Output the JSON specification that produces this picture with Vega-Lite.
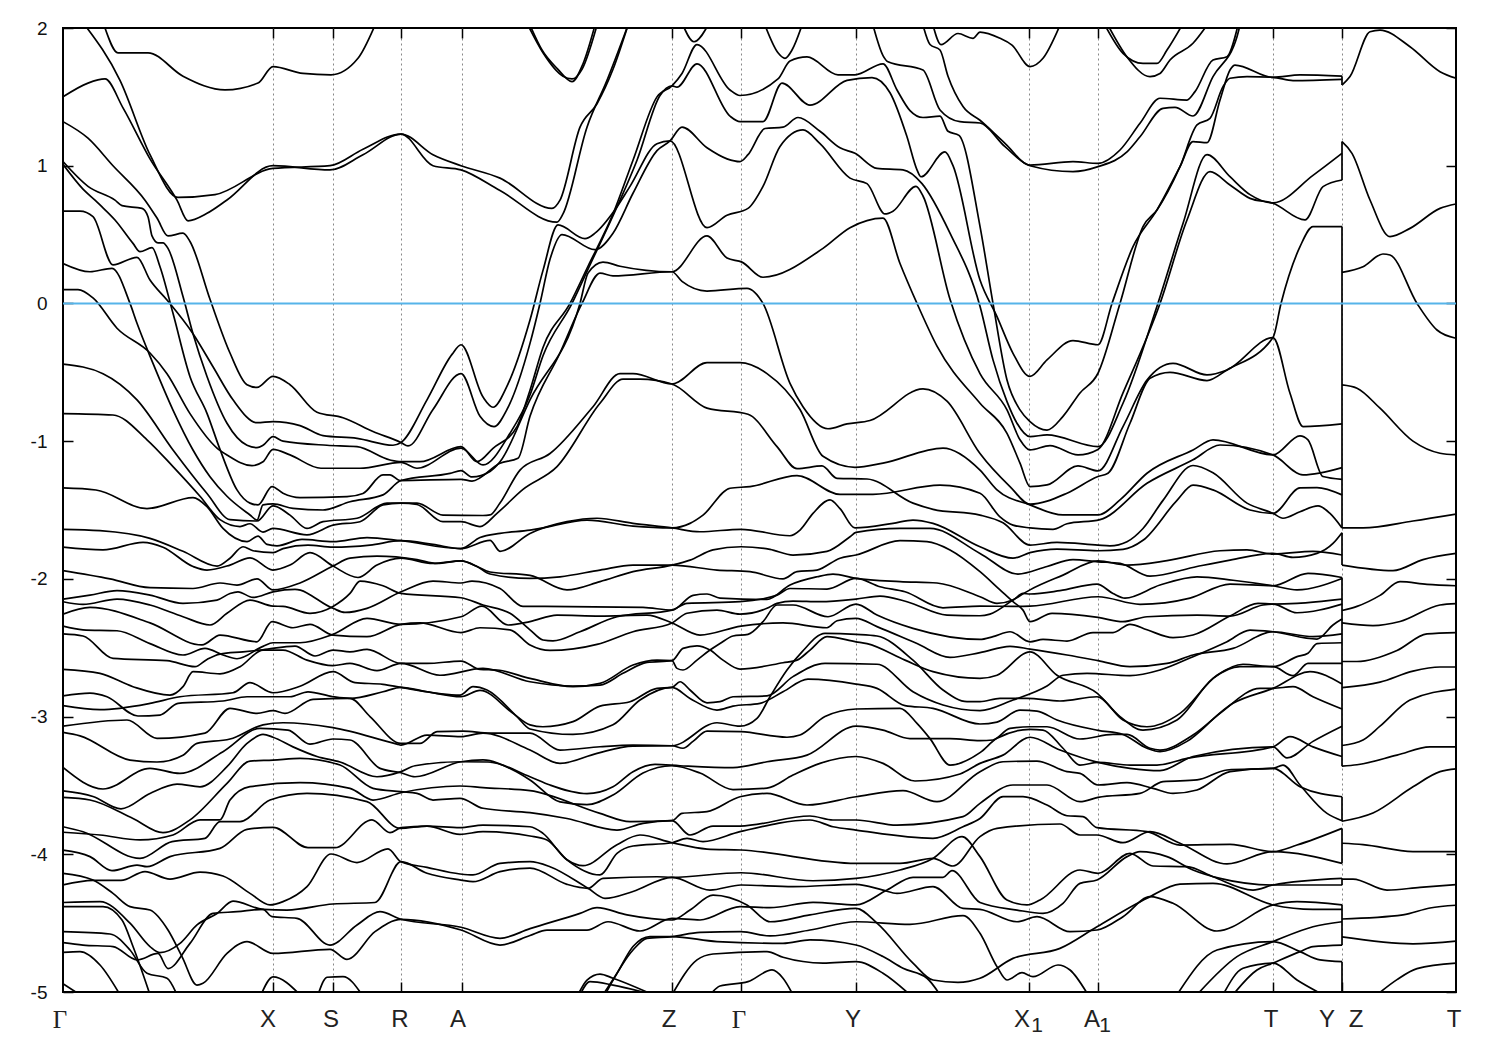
{"$schema":"https://vega.github.io/schema/vega-lite/v6.json","width":1393,"height":964,"autosize":"none","padding":{"left":63,"top":28,"right":44,"bottom":58},"background":"white","config":{"view":{"stroke":"black","strokeWidth":2},"axis":{"domain":false,"tickColor":"black","tickWidth":1.5,"labelColor":"#111","labelFont":"Liberation Sans"}},"resolve":{"axis":{"x":"independent","y":"independent"}},
"datasets":{"bands":[
{"b":1,"k":42,"e":2},{"b":1,"k":55,"e":1.82},{"b":1,"k":85,"e":1.82},{"b":1,"k":120,"e":1.65},{"b":1,"k":162,"e":1.55},{"b":1,"k":195,"e":1.6},{"b":1,"k":210,"e":1.72},{"b":1,"k":240,"e":1.67},{"b":1,"k":268,"e":1.66},{"b":1,"k":295,"e":1.78},{"b":1,"k":312,"e":2.02},
{"b":2,"k":465,"e":2.02},{"b":2,"k":480,"e":1.82},{"b":2,"k":500,"e":1.65},{"b":2,"k":509,"e":1.63},{"b":2,"k":519,"e":1.7},{"b":2,"k":534,"e":2.02},
{"b":3,"k":467,"e":2.02},{"b":3,"k":479,"e":1.84},{"b":3,"k":495,"e":1.7},{"b":3,"k":509,"e":1.61},{"b":3,"k":520,"e":1.74},{"b":3,"k":532,"e":2.02},
{"b":4,"k":0,"e":1.5},{"b":4,"k":25,"e":1.6},{"b":4,"k":42,"e":1.63},{"b":4,"k":60,"e":1.42},{"b":4,"k":87,"e":1.05},{"b":4,"k":114,"e":0.75},{"b":4,"k":125,"e":0.6},{"b":4,"k":144,"e":0.654},{"b":4,"k":164,"e":0.751},{"b":4,"k":210,"e":1},{"b":4,"k":267,"e":0.97},{"b":4,"k":300,"e":1.08},{"b":4,"k":338,"e":1.23},{"b":4,"k":370,"e":1.08},{"b":4,"k":398,"e":1},{"b":4,"k":437,"e":0.91},{"b":4,"k":489,"e":0.69},{"b":4,"k":497,"e":0.75},{"b":4,"k":517,"e":1.28},{"b":4,"k":534,"e":1.45},{"b":4,"k":550,"e":1.7},{"b":4,"k":565,"e":2.02},
{"b":5,"k":22,"e":2.02},{"b":5,"k":57,"e":1.62},{"b":5,"k":87,"e":1.08},{"b":5,"k":115,"e":0.77},{"b":5,"k":152,"e":0.79},{"b":5,"k":210,"e":0.98},{"b":5,"k":267,"e":1},{"b":5,"k":300,"e":1.12},{"b":5,"k":338,"e":1.23},{"b":5,"k":370,"e":1},{"b":5,"k":398,"e":0.97},{"b":5,"k":437,"e":0.82},{"b":5,"k":494,"e":0.59},{"b":5,"k":500,"e":0.65},{"b":5,"k":524,"e":1.28},{"b":5,"k":544,"e":1.62},{"b":5,"k":565,"e":2.02},
{"b":6,"k":0,"e":1.32},{"b":6,"k":25,"e":1.2},{"b":6,"k":50,"e":1},{"b":6,"k":82,"e":0.75},{"b":6,"k":94,"e":0.62},{"b":6,"k":105,"e":0.49},{"b":6,"k":120,"e":0.51},{"b":6,"k":127,"e":0.45},{"b":6,"k":147,"e":0.03},{"b":6,"k":167,"e":-0.36},{"b":6,"k":184,"e":-0.59},{"b":6,"k":194,"e":-0.61},{"b":6,"k":210,"e":-0.53},{"b":6,"k":227,"e":-0.59},{"b":6,"k":254,"e":-0.79},{"b":6,"k":280,"e":-0.83},{"b":6,"k":310,"e":-0.93},{"b":6,"k":338,"e":-1.01},{"b":6,"k":345,"e":-1.035},{"b":6,"k":370,"e":-0.77},{"b":6,"k":398,"e":-0.51},{"b":6,"k":417,"e":-0.82},{"b":6,"k":431,"e":-0.895},{"b":6,"k":444,"e":-0.77},{"b":6,"k":467,"e":-0.29},{"b":6,"k":477,"e":0},{"b":6,"k":487,"e":0.32},{"b":6,"k":499,"e":0.5},{"b":6,"k":532,"e":0.39},{"b":6,"k":550,"e":0.51},{"b":6,"k":570,"e":0.8},{"b":6,"k":594,"e":1.11},{"b":6,"k":607,"e":1.18},{"b":6,"k":619,"e":1.28},{"b":6,"k":644,"e":1.13},{"b":6,"k":664,"e":1.05},{"b":6,"k":677,"e":1.03},{"b":6,"k":685,"e":1.08},{"b":6,"k":702,"e":1.27},{"b":6,"k":720,"e":1.28},{"b":6,"k":735,"e":1.35},{"b":6,"k":757,"e":1.25},{"b":6,"k":777,"e":1.13},{"b":6,"k":792,"e":1.09},{"b":6,"k":814,"e":0.98},{"b":6,"k":840,"e":0.97},{"b":6,"k":859,"e":0.87},{"b":6,"k":887,"e":0.51},{"b":6,"k":917,"e":-0.02},{"b":6,"k":930,"e":-0.41},{"b":6,"k":944,"e":-0.713},{"b":6,"k":954,"e":-0.87},{"b":6,"k":967,"e":-0.967},{"b":6,"k":984,"e":-0.955},{"b":6,"k":1035,"e":-1.04},{"b":6,"k":1060,"e":-0.725},{"b":6,"k":1094,"e":-0.02},{"b":6,"k":1120,"e":0.58},{"b":6,"k":1144,"e":1.08},{"b":6,"k":1167,"e":0.92},{"b":6,"k":1187,"e":0.79},{"b":6,"k":1210,"e":0.73},{"b":6,"k":1250,"e":0.93},{"b":6,"k":1279,"e":1.09},
{"b":7,"k":0,"e":0.67},{"b":7,"k":17,"e":0.67},{"b":7,"k":30,"e":0.63},{"b":7,"k":50,"e":0.28},{"b":7,"k":74,"e":0.335},{"b":7,"k":87,"e":0.17},{"b":7,"k":104,"e":0.025},{"b":7,"k":130,"e":-0.22},{"b":7,"k":150,"e":-0.46},{"b":7,"k":170,"e":-0.7},{"b":7,"k":194,"e":-0.866},{"b":7,"k":210,"e":-0.858},{"b":7,"k":237,"e":-0.887},{"b":7,"k":260,"e":-0.96},{"b":7,"k":294,"e":-0.98},{"b":7,"k":330,"e":-1.03},{"b":7,"k":338,"e":-1.01},{"b":7,"k":364,"e":-0.7},{"b":7,"k":389,"e":-0.37},{"b":7,"k":398,"e":-0.3},{"b":7,"k":420,"e":-0.68},{"b":7,"k":430,"e":-0.754},{"b":7,"k":444,"e":-0.6},{"b":7,"k":467,"e":-0.12},{"b":7,"k":480,"e":0.24},{"b":7,"k":495,"e":0.57},{"b":7,"k":522,"e":0.47},{"b":7,"k":532,"e":0.51},{"b":7,"k":552,"e":0.68},{"b":7,"k":567,"e":0.85},{"b":7,"k":594,"e":1.16},{"b":7,"k":607,"e":1.18},{"b":7,"k":644,"e":0.55},{"b":7,"k":664,"e":0.64},{"b":7,"k":685,"e":0.69},{"b":7,"k":700,"e":0.85},{"b":7,"k":717,"e":1.14},{"b":7,"k":740,"e":1.26},{"b":7,"k":757,"e":1.16},{"b":7,"k":787,"e":0.91},{"b":7,"k":804,"e":0.87},{"b":7,"k":822,"e":0.65},{"b":7,"k":830,"e":0.67},{"b":7,"k":853,"e":0.85},{"b":7,"k":860,"e":0.78},{"b":7,"k":887,"e":0.03},{"b":7,"k":917,"e":-0.51},{"b":7,"k":944,"e":-0.773},{"b":7,"k":957,"e":-0.99},{"b":7,"k":967,"e":-1.064},{"b":7,"k":987,"e":-1.032},{"b":7,"k":1015,"e":-1.1},{"b":7,"k":1035,"e":-1.06},{"b":7,"k":1060,"e":-0.65},{"b":7,"k":1097,"e":0},{"b":7,"k":1124,"e":0.606},{"b":7,"k":1147,"e":0.957},{"b":7,"k":1167,"e":0.86},{"b":7,"k":1187,"e":0.763},{"b":7,"k":1210,"e":0.727},{"b":7,"k":1242,"e":0.606},{"b":7,"k":1260,"e":0.848},{"b":7,"k":1279,"e":0.896},
{"b":8,"k":0,"e":0.29},{"b":8,"k":27,"e":0.23},{"b":8,"k":49,"e":0.255},{"b":8,"k":67,"e":0},{"b":8,"k":74,"e":-0.144},{"b":8,"k":90,"e":-0.435},{"b":8,"k":110,"e":-0.774},{"b":8,"k":130,"e":-1.064},{"b":8,"k":147,"e":-1.258},{"b":8,"k":164,"e":-1.4},{"b":8,"k":187,"e":-1.536},{"b":8,"k":194,"e":-1.573},{"b":8,"k":200,"e":-1.463},{"b":8,"k":210,"e":-1.456},{"b":8,"k":230,"e":-1.488},{"b":8,"k":260,"e":-1.5},{"b":8,"k":287,"e":-1.44},{"b":8,"k":320,"e":-1.39},{"b":8,"k":338,"e":-1.286},{"b":8,"k":387,"e":-1.234},{"b":8,"k":398,"e":-1.214},{"b":8,"k":409,"e":-1.26},{"b":8,"k":427,"e":-1.22},{"b":8,"k":437,"e":-1.15},{"b":8,"k":467,"e":-0.7},{"b":8,"k":517,"e":0},{"b":8,"k":525,"e":0.22},{"b":8,"k":540,"e":0.3},{"b":8,"k":557,"e":0.27},{"b":8,"k":609,"e":0.23},{"b":8,"k":644,"e":0.49},{"b":8,"k":664,"e":0.33},{"b":8,"k":679,"e":0.3},{"b":8,"k":700,"e":0.19},{"b":8,"k":760,"e":0.4},{"b":8,"k":787,"e":0.55},{"b":8,"k":820,"e":0.62},{"b":8,"k":837,"e":0.29},{"b":8,"k":854,"e":0},{"b":8,"k":874,"e":-0.31},{"b":8,"k":917,"e":-0.725},{"b":8,"k":944,"e":-0.943},{"b":8,"k":957,"e":-1.16},{"b":8,"k":967,"e":-1.33},{"b":8,"k":984,"e":-1.318},{"b":8,"k":1015,"e":-1.18},{"b":8,"k":1035,"e":-1.216},{"b":8,"k":1060,"e":-0.894},{"b":8,"k":1084,"e":-0.556},{"b":8,"k":1110,"e":-0.435},{"b":8,"k":1144,"e":-0.519},{"b":8,"k":1164,"e":-0.483},{"b":8,"k":1210,"e":-0.248},{"b":8,"k":1227,"e":-0.652},{"b":8,"k":1240,"e":-0.894},{"b":8,"k":1279,"e":-0.875},
{"b":9,"k":0,"e":0.1},{"b":9,"k":15,"e":0.1},{"b":9,"k":30,"e":0.04},{"b":9,"k":54,"e":-0.18},{"b":9,"k":87,"e":-0.36},{"b":9,"k":104,"e":-0.51},{"b":9,"k":127,"e":-0.8},{"b":9,"k":154,"e":-1.05},{"b":9,"k":164,"e":-1.1},{"b":9,"k":189,"e":-1.178},{"b":9,"k":200,"e":-1.15},{"b":9,"k":210,"e":-1.06},{"b":9,"k":227,"e":-1.1},{"b":9,"k":258,"e":-1.197},{"b":9,"k":297,"e":-1.197},{"b":9,"k":338,"e":-1.154},{"b":9,"k":354,"e":-1.197},{"b":9,"k":398,"e":-1.05},{"b":9,"k":420,"e":-1.173},{"b":9,"k":447,"e":-0.943},{"b":9,"k":467,"e":-0.665},{"b":9,"k":480,"e":-0.38},{"b":9,"k":509,"e":0},{"b":9,"k":527,"e":0.28},{"b":9,"k":554,"e":0.7},{"b":9,"k":574,"e":1.04},{"b":9,"k":597,"e":1.51},{"b":9,"k":609,"e":1.58},{"b":9,"k":614,"e":1.57},{"b":9,"k":634,"e":1.74},{"b":9,"k":667,"e":1.36},{"b":9,"k":677,"e":1.32},{"b":9,"k":700,"e":1.32},{"b":9,"k":719,"e":1.6},{"b":9,"k":747,"e":1.44},{"b":9,"k":784,"e":1.62},{"b":9,"k":809,"e":1.64},{"b":9,"k":827,"e":1.53},{"b":9,"k":844,"e":1.21},{"b":9,"k":854,"e":0.97},{"b":9,"k":858,"e":0.92},{"b":9,"k":882,"e":1.1},{"b":9,"k":890,"e":1},{"b":9,"k":917,"e":0.17},{"b":9,"k":934,"e":-0.096},{"b":9,"k":950,"e":-0.362},{"b":9,"k":967,"e":-0.53},{"b":9,"k":984,"e":-0.41},{"b":9,"k":1010,"e":-0.27},{"b":9,"k":1035,"e":-0.3},{"b":9,"k":1049,"e":0},{"b":9,"k":1070,"e":0.412},{"b":9,"k":1094,"e":0.679},{"b":9,"k":1117,"e":0.993},{"b":9,"k":1130,"e":1.175},{"b":9,"k":1144,"e":1.167},{"b":9,"k":1157,"e":1.477},{"b":9,"k":1167,"e":1.695},{"b":9,"k":1172,"e":1.731},{"b":9,"k":1210,"e":1.642},{"b":9,"k":1237,"e":1.659},{"b":9,"k":1279,"e":1.65},
{"b":10,"k":0,"e":1.03},{"b":10,"k":25,"e":0.85},{"b":10,"k":52,"e":0.75},{"b":10,"k":59,"e":0.71},{"b":10,"k":79,"e":0.69},{"b":10,"k":85,"e":0.63},{"b":10,"k":89,"e":0.49},{"b":10,"k":95,"e":0.44},{"b":10,"k":100,"e":0.44},{"b":10,"k":105,"e":0.4},{"b":10,"k":120,"e":0.05},{"b":10,"k":130,"e":-0.22},{"b":10,"k":144,"e":-0.53},{"b":10,"k":164,"e":-0.87},{"b":10,"k":184,"e":-1.03},{"b":10,"k":194,"e":-1.047},{"b":10,"k":200,"e":-1.03},{"b":10,"k":210,"e":-0.967},{"b":10,"k":220,"e":-1},{"b":10,"k":264,"e":-1.03},{"b":10,"k":294,"e":-1.04},{"b":10,"k":327,"e":-1.137},{"b":10,"k":338,"e":-1.149},{"b":10,"k":357,"e":-1.149},{"b":10,"k":398,"e":-1.04},{"b":10,"k":414,"e":-1.149},{"b":10,"k":430,"e":-1.052},{"b":10,"k":454,"e":-0.895},{"b":10,"k":467,"e":-0.63},{"b":10,"k":480,"e":-0.32},{"b":10,"k":507,"e":0},{"b":10,"k":525,"e":0.27},{"b":10,"k":550,"e":0.65},{"b":10,"k":570,"e":1.04},{"b":10,"k":594,"e":1.5},{"b":10,"k":609,"e":1.58},{"b":10,"k":619,"e":1.67},{"b":10,"k":634,"e":1.88},{"b":10,"k":667,"e":1.55},{"b":10,"k":677,"e":1.51},{"b":10,"k":715,"e":1.63},{"b":10,"k":727,"e":1.76},{"b":10,"k":744,"e":1.79},{"b":10,"k":775,"e":1.66},{"b":10,"k":792,"e":1.66},{"b":10,"k":820,"e":1.74},{"b":10,"k":834,"e":1.55},{"b":10,"k":847,"e":1.4},{"b":10,"k":860,"e":1.35},{"b":10,"k":877,"e":1.36},{"b":10,"k":885,"e":1.25},{"b":10,"k":896,"e":1.22},{"b":10,"k":917,"e":0.56},{"b":10,"k":930,"e":0},{"b":10,"k":944,"e":-0.556},{"b":10,"k":957,"e":-0.773},{"b":10,"k":967,"e":-0.858},{"b":10,"k":984,"e":-0.92},{"b":10,"k":1000,"e":-0.82},{"b":10,"k":1017,"e":-0.65},{"b":10,"k":1035,"e":-0.507},{"b":10,"k":1057,"e":0},{"b":10,"k":1080,"e":0.558},{"b":10,"k":1094,"e":0.679},{"b":10,"k":1117,"e":0.993},{"b":10,"k":1134,"e":1.296},{"b":10,"k":1147,"e":1.344},{"b":10,"k":1160,"e":1.574},{"b":10,"k":1167,"e":1.635},{"b":10,"k":1184,"e":1.647},{"b":10,"k":1210,"e":1.642},{"b":10,"k":1230,"e":1.618},{"b":10,"k":1279,"e":1.627},
{"b":11,"k":0,"e":1.01},{"b":11,"k":20,"e":0.83},{"b":11,"k":32,"e":0.75},{"b":11,"k":37,"e":0.715},{"b":11,"k":52,"e":0.606},{"b":11,"k":70,"e":0.436},{"b":11,"k":77,"e":0.376},{"b":11,"k":89,"e":0.405},{"b":11,"k":97,"e":0.267},{"b":11,"k":110,"e":-0.072},{"b":11,"k":127,"e":-0.532},{"b":11,"k":144,"e":-0.798},{"b":11,"k":157,"e":-1.06},{"b":11,"k":174,"e":-1.354},{"b":11,"k":187,"e":-1.45},{"b":11,"k":195,"e":-1.463},{"b":11,"k":209,"e":-1.33},{"b":11,"k":220,"e":-1.378},{"b":11,"k":237,"e":-1.41},{"b":11,"k":284,"e":-1.403},{"b":11,"k":300,"e":-1.38},{"b":11,"k":320,"e":-1.245},{"b":11,"k":327,"e":-1.245},{"b":11,"k":337,"e":-1.286},{"b":11,"k":398,"e":-1.277},{"b":11,"k":409,"e":-1.29},{"b":11,"k":437,"e":-1.16},{"b":11,"k":455,"e":-1.125},{"b":11,"k":467,"e":-0.82},{"b":11,"k":497,"e":-0.36},{"b":11,"k":519,"e":0},{"b":11,"k":537,"e":0.22},{"b":11,"k":550,"e":0.2},{"b":11,"k":609,"e":0.23},{"b":11,"k":619,"e":0.16},{"b":11,"k":644,"e":0.09},{"b":11,"k":684,"e":0.11},{"b":11,"k":700,"e":0},{"b":11,"k":727,"e":-0.58},{"b":11,"k":740,"e":-0.75},{"b":11,"k":765,"e":-0.91},{"b":11,"k":784,"e":-0.875},{"b":11,"k":807,"e":-0.85},{"b":11,"k":860,"e":-0.62},{"b":11,"k":884,"e":-0.71},{"b":11,"k":917,"e":-1.09},{"b":11,"k":947,"e":-1.33},{"b":11,"k":967,"e":-1.458},{"b":11,"k":1004,"e":-1.378},{"b":11,"k":1035,"e":-1.257},{"b":11,"k":1045,"e":-1.233},{"b":11,"k":1067,"e":-0.87},{"b":11,"k":1087,"e":-0.543},{"b":11,"k":1107,"e":-0.5},{"b":11,"k":1144,"e":-0.56},{"b":11,"k":1164,"e":-0.483},{"b":11,"k":1210,"e":-0.248},{"b":11,"k":1218,"e":0},{"b":11,"k":1237,"e":0.412},{"b":11,"k":1250,"e":0.558},{"b":11,"k":1279,"e":0.558},
{"b":12,"k":810,"e":2.02},{"b":12,"k":820,"e":1.8},{"b":12,"k":825,"e":1.755},{"b":12,"k":860,"e":1.695},{"b":12,"k":877,"e":1.405},{"b":12,"k":897,"e":1.32},{"b":12,"k":917,"e":1.31},{"b":12,"k":942,"e":1.138},{"b":12,"k":967,"e":1},{"b":12,"k":1010,"e":0.957},{"b":12,"k":1035,"e":0.993},{"b":12,"k":1064,"e":1.1},{"b":12,"k":1077,"e":1.21},{"b":12,"k":1100,"e":1.417},{"b":12,"k":1112,"e":1.424},{"b":12,"k":1130,"e":1.361},{"b":12,"k":1150,"e":1.647},{"b":12,"k":1174,"e":1.937},{"b":12,"k":1177,"e":2.02},
{"b":13,"k":860,"e":2.02},{"b":13,"k":867,"e":1.88},{"b":13,"k":877,"e":1.84},{"b":13,"k":885,"e":1.65},{"b":13,"k":900,"e":1.43},{"b":13,"k":917,"e":1.33},{"b":13,"k":942,"e":1.163},{"b":13,"k":967,"e":1.005},{"b":13,"k":1010,"e":1.03},{"b":13,"k":1035,"e":1.017},{"b":13,"k":1057,"e":1.114},{"b":13,"k":1077,"e":1.308},{"b":13,"k":1097,"e":1.49},{"b":13,"k":1124,"e":1.477},{"b":13,"k":1132,"e":1.538},{"b":13,"k":1150,"e":1.768},{"b":13,"k":1164,"e":1.792},{"b":13,"k":1175,"e":2.02},
{"b":14,"k":870,"e":2.02},{"b":14,"k":878,"e":1.88},{"b":14,"k":895,"e":1.96},{"b":14,"k":910,"e":1.925},{"b":14,"k":917,"e":1.97},{"b":14,"k":937,"e":1.925},{"b":14,"k":949,"e":1.876},{"b":14,"k":967,"e":1.72},{"b":14,"k":980,"e":1.78},{"b":14,"k":997,"e":2.02},
{"b":15,"k":1042,"e":2.02},{"b":15,"k":1060,"e":1.816},{"b":15,"k":1080,"e":1.743},{"b":15,"k":1094,"e":1.743},{"b":15,"k":1104,"e":1.84},{"b":15,"k":1119,"e":2.02},
{"b":16,"k":1045,"e":2.02},{"b":16,"k":1064,"e":1.79},{"b":16,"k":1087,"e":1.647},{"b":16,"k":1097,"e":1.67},{"b":16,"k":1107,"e":1.768},{"b":16,"k":1130,"e":1.889},{"b":16,"k":1144,"e":2.02},
{"b":17,"k":620,"e":2.02},{"b":17,"k":631,"e":1.9},{"b":17,"k":645,"e":2.02},
{"b":18,"k":702,"e":2.02},{"b":18,"k":715,"e":1.82},{"b":18,"k":722,"e":1.78},{"b":18,"k":729,"e":1.84},{"b":18,"k":739,"e":2.02},
{"b":19,"k":0,"e":-1.34},{"b":19,"k":33,"e":-1.355},{"b":19,"k":84,"e":-1.49},{"b":19,"k":130,"e":-1.41},{"b":19,"k":144,"e":-1.476},{"b":19,"k":160,"e":-1.634},{"b":19,"k":184,"e":-1.73},{"b":19,"k":195,"e":-1.69},{"b":19,"k":204,"e":-1.75},{"b":19,"k":214,"e":-1.76},{"b":19,"k":239,"e":-1.714},{"b":19,"k":270,"e":-1.73},{"b":19,"k":304,"e":-1.7},{"b":19,"k":338,"e":-1.723},{"b":19,"k":398,"e":-1.78},{"b":19,"k":417,"e":-1.7},{"b":19,"k":437,"e":-1.67},{"b":19,"k":467,"e":-1.646},{"b":19,"k":477,"e":-1.634},{"b":19,"k":524,"e":-1.573},{"b":19,"k":570,"e":-1.617},{"b":19,"k":609,"e":-1.63},{"b":19,"k":627,"e":-1.597},{"b":19,"k":640,"e":-1.537},{"b":19,"k":667,"e":-1.342},{"b":19,"k":687,"e":-1.33},{"b":19,"k":734,"e":-1.25},{"b":19,"k":777,"e":-1.386},{"b":19,"k":810,"e":-1.386},{"b":19,"k":877,"e":-1.32},{"b":19,"k":917,"e":-1.378},{"b":19,"k":937,"e":-1.55},{"b":19,"k":950,"e":-1.61},{"b":19,"k":967,"e":-1.63},{"b":19,"k":990,"e":-1.64},{"b":19,"k":1004,"e":-1.6},{"b":19,"k":1037,"e":-1.57},{"b":19,"k":1084,"e":-1.306},{"b":19,"k":1130,"e":-1.136},{"b":19,"k":1157,"e":-1.028},{"b":19,"k":1210,"e":-1.1},{"b":19,"k":1240,"e":-1.245},{"b":19,"k":1279,"e":-1.192},
{"b":20,"k":0,"e":-0.44},{"b":20,"k":40,"e":-0.51},{"b":20,"k":74,"e":-0.7},{"b":20,"k":110,"e":-1.064},{"b":20,"k":144,"e":-1.38},{"b":20,"k":167,"e":-1.57},{"b":20,"k":194,"e":-1.58},{"b":20,"k":210,"e":-1.47},{"b":20,"k":227,"e":-1.537},{"b":20,"k":244,"e":-1.634},{"b":20,"k":260,"e":-1.585},{"b":20,"k":294,"e":-1.56},{"b":20,"k":324,"e":-1.45},{"b":20,"k":354,"e":-1.45},{"b":20,"k":380,"e":-1.537},{"b":20,"k":420,"e":-1.54},{"b":20,"k":427,"e":-1.536},{"b":20,"k":437,"e":-1.45},{"b":20,"k":457,"e":-1.21},{"b":20,"k":487,"e":-1.09},{"b":20,"k":530,"e":-0.75},{"b":20,"k":557,"e":-0.51},{"b":20,"k":570,"e":-0.51},{"b":20,"k":609,"e":-0.585},{"b":20,"k":644,"e":-0.43},{"b":20,"k":677,"e":-0.43},{"b":20,"k":704,"e":-0.51},{"b":20,"k":737,"e":-0.77},{"b":20,"k":760,"e":-1.11},{"b":20,"k":792,"e":-1.19},{"b":20,"k":820,"e":-1.16},{"b":20,"k":880,"e":-1.05},{"b":20,"k":917,"e":-1.21},{"b":20,"k":934,"e":-1.354},{"b":20,"k":967,"e":-1.463},{"b":20,"k":1000,"e":-1.536},{"b":20,"k":1035,"e":-1.536},{"b":20,"k":1057,"e":-1.427},{"b":20,"k":1084,"e":-1.233},{"b":20,"k":1130,"e":-1.064},{"b":20,"k":1150,"e":-0.991},{"b":20,"k":1210,"e":-1.1},{"b":20,"k":1237,"e":-0.962},{"b":20,"k":1245,"e":-0.991},{"b":20,"k":1260,"e":-1.257},{"b":20,"k":1279,"e":-1.277},
{"b":21,"k":0,"e":-0.8},{"b":21,"k":50,"e":-0.81},{"b":21,"k":84,"e":-0.99},{"b":21,"k":110,"e":-1.185},{"b":21,"k":137,"e":-1.4},{"b":21,"k":157,"e":-1.57},{"b":21,"k":177,"e":-1.62},{"b":21,"k":187,"e":-1.6},{"b":21,"k":200,"e":-1.66},{"b":21,"k":210,"e":-1.634},{"b":21,"k":244,"e":-1.68},{"b":21,"k":270,"e":-1.61},{"b":21,"k":297,"e":-1.585},{"b":21,"k":320,"e":-1.464},{"b":21,"k":338,"e":-1.45},{"b":21,"k":354,"e":-1.46},{"b":21,"k":380,"e":-1.585},{"b":21,"k":398,"e":-1.585},{"b":21,"k":417,"e":-1.62},{"b":21,"k":434,"e":-1.524},{"b":21,"k":460,"e":-1.35},{"b":21,"k":494,"e":-1.185},{"b":21,"k":537,"e":-0.725},{"b":21,"k":560,"e":-0.55},{"b":21,"k":577,"e":-0.55},{"b":21,"k":609,"e":-0.585},{"b":21,"k":644,"e":-0.76},{"b":21,"k":685,"e":-0.805},{"b":21,"k":714,"e":-1.04},{"b":21,"k":734,"e":-1.2},{"b":21,"k":759,"e":-1.18},{"b":21,"k":774,"e":-1.27},{"b":21,"k":804,"e":-1.275},{"b":21,"k":850,"e":-1.45},{"b":21,"k":870,"e":-1.495},{"b":21,"k":917,"e":-1.537},{"b":21,"k":940,"e":-1.593},{"b":21,"k":967,"e":-1.755},{"b":21,"k":994,"e":-1.735},{"b":21,"k":1035,"e":-1.755},{"b":21,"k":1047,"e":-1.76},{"b":21,"k":1064,"e":-1.73},{"b":21,"k":1080,"e":-1.634},{"b":21,"k":1100,"e":-1.43},{"b":21,"k":1130,"e":-1.177},{"b":21,"k":1150,"e":-1.23},{"b":21,"k":1184,"e":-1.45},{"b":21,"k":1210,"e":-1.524},{"b":21,"k":1220,"e":-1.56},{"b":21,"k":1237,"e":-1.513},{"b":21,"k":1255,"e":-1.47},{"b":21,"k":1267,"e":-1.525},{"b":21,"k":1279,"e":-1.63},
{"b":22,"k":0,"e":-1.64},{"b":22,"k":37,"e":-1.65},{"b":22,"k":87,"e":-1.706},{"b":22,"k":120,"e":-1.8},{"b":22,"k":154,"e":-1.907},{"b":22,"k":167,"e":-1.85},{"b":22,"k":180,"e":-1.767},{"b":22,"k":190,"e":-1.796},{"b":22,"k":210,"e":-1.81},{"b":22,"k":220,"e":-1.78},{"b":22,"k":245,"e":-1.755},{"b":22,"k":270,"e":-1.77},{"b":22,"k":307,"e":-1.755},{"b":22,"k":338,"e":-1.723},{"b":22,"k":370,"e":-1.75},{"b":22,"k":398,"e":-1.78},{"b":22,"k":427,"e":-1.72},{"b":22,"k":437,"e":-1.8},{"b":22,"k":467,"e":-1.67},{"b":22,"k":504,"e":-1.585},{"b":22,"k":534,"e":-1.56},{"b":22,"k":570,"e":-1.597},{"b":22,"k":609,"e":-1.63},{"b":22,"k":637,"e":-1.658},{"b":22,"k":678,"e":-1.64},{"b":22,"k":727,"e":-1.687},{"b":22,"k":737,"e":-1.646},{"b":22,"k":750,"e":-1.525},{"b":22,"k":767,"e":-1.427},{"b":22,"k":777,"e":-1.49},{"b":22,"k":792,"e":-1.63},{"b":22,"k":830,"e":-1.597},{"b":22,"k":850,"e":-1.573},{"b":22,"k":870,"e":-1.597},{"b":22,"k":917,"e":-1.767},{"b":22,"k":950,"e":-1.85},{"b":22,"k":967,"e":-1.81},{"b":22,"k":994,"e":-1.784},{"b":22,"k":1035,"e":-1.796},{"b":22,"k":1060,"e":-1.786},{"b":22,"k":1080,"e":-1.72},{"b":22,"k":1114,"e":-1.43},{"b":22,"k":1130,"e":-1.32},{"b":22,"k":1150,"e":-1.354},{"b":22,"k":1187,"e":-1.5},{"b":22,"k":1210,"e":-1.524},{"b":22,"k":1237,"e":-1.34},{"b":22,"k":1254,"e":-1.337},{"b":22,"k":1279,"e":-1.39},
{"b":23,"k":0,"e":-1.77},{"b":23,"k":40,"e":-1.79},{"b":23,"k":80,"e":-1.735},{"b":23,"k":100,"e":-1.77},{"b":23,"k":130,"e":-1.91},{"b":23,"k":144,"e":-1.936},{"b":23,"k":167,"e":-1.9},{"b":23,"k":187,"e":-1.847},{"b":23,"k":210,"e":-1.936},{"b":23,"k":227,"e":-1.9},{"b":23,"k":247,"e":-1.81},{"b":23,"k":270,"e":-1.907},{"b":23,"k":295,"e":-1.99},{"b":23,"k":314,"e":-1.9},{"b":23,"k":338,"e":-1.85},{"b":23,"k":370,"e":-1.888},{"b":23,"k":398,"e":-1.87},{"b":23,"k":414,"e":-1.91},{"b":23,"k":427,"e":-1.965},{"b":23,"k":467,"e":-1.997},{"b":23,"k":497,"e":-1.985},{"b":23,"k":537,"e":-1.936},{"b":23,"k":570,"e":-1.9},{"b":23,"k":609,"e":-1.9},{"b":23,"k":654,"e":-1.936},{"b":23,"k":687,"e":-1.948},{"b":23,"k":720,"e":-2},{"b":23,"k":734,"e":-1.948},{"b":23,"k":754,"e":-1.936},{"b":23,"k":777,"e":-1.85},{"b":23,"k":793,"e":-1.827},{"b":23,"k":837,"e":-1.723},{"b":23,"k":864,"e":-1.73},{"b":23,"k":887,"e":-1.79},{"b":23,"k":917,"e":-1.948},{"b":23,"k":937,"e":-2.08},{"b":23,"k":950,"e":-2.166},{"b":23,"k":960,"e":-2.227},{"b":23,"k":967,"e":-2.311},{"b":23,"k":989,"e":-2.25},{"b":23,"k":1035,"e":-2.28},{"b":23,"k":1060,"e":-2.311},{"b":23,"k":1084,"e":-2.275},{"b":23,"k":1134,"e":-2.263},{"b":23,"k":1167,"e":-2.27},{"b":23,"k":1200,"e":-2.19},{"b":23,"k":1210,"e":-2.183},{"b":23,"k":1234,"e":-2.246},{"b":23,"k":1279,"e":-2.183},
{"b":24,"k":0,"e":-1.94},{"b":24,"k":47,"e":-2},{"b":24,"k":87,"e":-2.064},{"b":24,"k":130,"e":-2.07},{"b":24,"k":157,"e":-2.03},{"b":24,"k":174,"e":-2.045},{"b":24,"k":194,"e":-2},{"b":24,"k":210,"e":-2.08},{"b":24,"k":237,"e":-2.03},{"b":24,"k":270,"e":-1.907},{"b":24,"k":287,"e":-1.85},{"b":24,"k":314,"e":-1.835},{"b":24,"k":354,"e":-1.86},{"b":24,"k":374,"e":-1.888},{"b":24,"k":398,"e":-1.87},{"b":24,"k":414,"e":-1.91},{"b":24,"k":427,"e":-1.95},{"b":24,"k":467,"e":-1.975},{"b":24,"k":504,"e":-2.08},{"b":24,"k":537,"e":-2.02},{"b":24,"k":570,"e":-1.948},{"b":24,"k":609,"e":-1.9},{"b":24,"k":627,"e":-1.864},{"b":24,"k":650,"e":-1.79},{"b":24,"k":678,"e":-1.767},{"b":24,"k":707,"e":-1.786},{"b":24,"k":730,"e":-1.827},{"b":24,"k":764,"e":-1.8},{"b":24,"k":787,"e":-1.694},{"b":24,"k":793,"e":-1.663},{"b":24,"k":837,"e":-1.634},{"b":24,"k":867,"e":-1.634},{"b":24,"k":917,"e":-1.815},{"b":24,"k":955,"e":-1.965},{"b":24,"k":984,"e":-1.91},{"b":24,"k":1010,"e":-1.86},{"b":24,"k":1035,"e":-1.876},{"b":24,"k":1057,"e":-1.888},{"b":24,"k":1087,"e":-1.98},{"b":24,"k":1134,"e":-1.91},{"b":24,"k":1167,"e":-1.864},{"b":24,"k":1210,"e":-1.815},{"b":24,"k":1230,"e":-1.844},{"b":24,"k":1254,"e":-1.815},{"b":24,"k":1270,"e":-1.743},{"b":24,"k":1279,"e":-1.665},
{"b":25,"k":0,"e":-2.147},{"b":25,"k":27,"e":-2.118},{"b":25,"k":54,"e":-2.086},{"b":25,"k":87,"e":-2.118},{"b":25,"k":120,"e":-2.178},{"b":25,"k":154,"e":-2.154},{"b":25,"k":167,"e":-2.106},{"b":25,"k":175,"e":-2.094},{"b":25,"k":190,"e":-2.135},{"b":25,"k":210,"e":-2.094},{"b":25,"k":232,"e":-2.077},{"b":25,"k":270,"e":-2.214},{"b":25,"k":282,"e":-2.244},{"b":25,"k":304,"e":-2.214},{"b":25,"k":338,"e":-2.094},{"b":25,"k":370,"e":-2.016},{"b":25,"k":398,"e":-2.03},{"b":25,"k":409,"e":-2.016},{"b":25,"k":437,"e":-2.07},{"b":25,"k":460,"e":-2.2},{"b":25,"k":467,"e":-2.2},{"b":25,"k":580,"e":-2.207},{"b":25,"k":609,"e":-2.227},{"b":25,"k":630,"e":-2.12},{"b":25,"k":644,"e":-2.11},{"b":25,"k":657,"e":-2.14},{"b":25,"k":704,"e":-2.15},{"b":25,"k":727,"e":-2.045},{"b":25,"k":754,"e":-1.985},{"b":25,"k":770,"e":-1.965},{"b":25,"k":793,"e":-1.997},{"b":25,"k":837,"e":-2.02},{"b":25,"k":874,"e":-2.03},{"b":25,"k":917,"e":-2.13},{"b":25,"k":934,"e":-2.178},{"b":25,"k":950,"e":-2.154},{"b":25,"k":960,"e":-2.106},{"b":25,"k":967,"e":-2.11},{"b":25,"k":997,"e":-2.086},{"b":25,"k":1034,"e":-2.038},{"b":25,"k":1050,"e":-2.106},{"b":25,"k":1062,"e":-2.14},{"b":25,"k":1097,"e":-2.045},{"b":25,"k":1134,"e":-1.985},{"b":25,"k":1170,"e":-2.01},{"b":25,"k":1210,"e":-2.05},{"b":25,"k":1234,"e":-2.08},{"b":25,"k":1279,"e":-1.997},
{"b":26,"k":0,"e":-2.166},{"b":26,"k":20,"e":-2.185},{"b":26,"k":54,"e":-2.147},{"b":26,"k":87,"e":-2.19},{"b":26,"k":120,"e":-2.275},{"b":26,"k":147,"e":-2.335},{"b":26,"k":164,"e":-2.25},{"b":26,"k":187,"e":-2.154},{"b":26,"k":210,"e":-2.198},{"b":26,"k":220,"e":-2.2},{"b":26,"k":247,"e":-2.25},{"b":26,"k":270,"e":-2.2},{"b":26,"k":287,"e":-2.106},{"b":26,"k":297,"e":-2.016},{"b":26,"k":320,"e":-2.05},{"b":26,"k":338,"e":-2.106},{"b":26,"k":398,"e":-2.137},{"b":26,"k":420,"e":-2.19},{"b":26,"k":447,"e":-2.25},{"b":26,"k":467,"e":-2.37},{"b":26,"k":480,"e":-2.444},{"b":26,"k":490,"e":-2.45},{"b":26,"k":517,"e":-2.384},{"b":26,"k":554,"e":-2.275},{"b":26,"k":609,"e":-2.227},{"b":26,"k":624,"e":-2.178},{"b":26,"k":677,"e":-2.166},{"b":26,"k":714,"e":-2.118},{"b":26,"k":727,"e":-2.07},{"b":26,"k":764,"e":-2.074},{"b":26,"k":793,"e":-1.997},{"b":26,"k":817,"e":-2.057},{"b":26,"k":842,"e":-2.094},{"b":26,"k":880,"e":-2.21},{"b":26,"k":917,"e":-2.198},{"b":26,"k":950,"e":-2.2},{"b":26,"k":967,"e":-2.198},{"b":26,"k":1035,"e":-2.13},{"b":26,"k":1077,"e":-2.185},{"b":26,"k":1127,"e":-2.14},{"b":26,"k":1167,"e":-2.038},{"b":26,"k":1210,"e":-2.05},{"b":26,"k":1245,"e":-1.96},{"b":26,"k":1279,"e":-1.99},
{"b":27,"k":0,"e":-2.256},{"b":27,"k":27,"e":-2.207},{"b":27,"k":87,"e":-2.32},{"b":27,"k":139,"e":-2.48},{"b":27,"k":157,"e":-2.408},{"b":27,"k":194,"e":-2.457},{"b":27,"k":209,"e":-2.311},{"b":27,"k":230,"e":-2.355},{"b":27,"k":247,"e":-2.33},{"b":27,"k":270,"e":-2.408},{"b":27,"k":304,"e":-2.42},{"b":27,"k":338,"e":-2.33},{"b":27,"k":357,"e":-2.32},{"b":27,"k":398,"e":-2.39},{"b":27,"k":417,"e":-2.355},{"b":27,"k":447,"e":-2.37},{"b":27,"k":467,"e":-2.48},{"b":27,"k":487,"e":-2.52},{"b":27,"k":534,"e":-2.476},{"b":27,"k":570,"e":-2.384},{"b":27,"k":609,"e":-2.32},{"b":27,"k":624,"e":-2.25},{"b":27,"k":654,"e":-2.227},{"b":27,"k":677,"e":-2.256},{"b":27,"k":704,"e":-2.214},{"b":27,"k":714,"e":-2.178},{"b":27,"k":730,"e":-2.161},{"b":27,"k":757,"e":-2.166},{"b":27,"k":793,"e":-2.147},{"b":27,"k":817,"e":-2.125},{"b":27,"k":844,"e":-2.166},{"b":27,"k":884,"e":-2.263},{"b":27,"k":917,"e":-2.268},{"b":27,"k":927,"e":-2.256},{"b":27,"k":950,"e":-2.154},{"b":27,"k":967,"e":-2.08},{"b":27,"k":1000,"e":-1.973},{"b":27,"k":1035,"e":-1.87},{"b":27,"k":1064,"e":-1.9},{"b":27,"k":1104,"e":-1.868},{"b":27,"k":1157,"e":-1.796},{"b":27,"k":1184,"e":-1.79},{"b":27,"k":1210,"e":-1.82},{"b":27,"k":1250,"e":-1.8},{"b":27,"k":1279,"e":-1.827},
{"b":28,"k":0,"e":-2.343},{"b":28,"k":20,"e":-2.37},{"b":28,"k":54,"e":-2.377},{"b":28,"k":87,"e":-2.47},{"b":28,"k":120,"e":-2.553},{"b":28,"k":142,"e":-2.505},{"b":28,"k":160,"e":-2.553},{"b":28,"k":174,"e":-2.58},{"b":28,"k":200,"e":-2.49},{"b":28,"k":210,"e":-2.464},{"b":28,"k":237,"e":-2.464},{"b":28,"k":270,"e":-2.403},{"b":28,"k":304,"e":-2.287},{"b":28,"k":338,"e":-2.33},{"b":28,"k":398,"e":-2.275},{"b":28,"k":419,"e":-2.198},{"b":28,"k":445,"e":-2.335},{"b":28,"k":467,"e":-2.31},{"b":28,"k":494,"e":-2.263},{"b":28,"k":537,"e":-2.27},{"b":28,"k":584,"e":-2.263},{"b":28,"k":609,"e":-2.32},{"b":28,"k":637,"e":-2.408},{"b":28,"k":678,"e":-2.343},{"b":28,"k":720,"e":-2.32},{"b":28,"k":764,"e":-2.355},{"b":28,"k":774,"e":-2.304},{"b":28,"k":793,"e":-2.287},{"b":28,"k":814,"e":-2.347},{"b":28,"k":854,"e":-2.47},{"b":28,"k":887,"e":-2.57},{"b":28,"k":917,"e":-2.536},{"b":28,"k":947,"e":-2.49},{"b":28,"k":967,"e":-2.51},{"b":28,"k":1004,"e":-2.553},{"b":28,"k":1035,"e":-2.594},{"b":28,"k":1067,"e":-2.638},{"b":28,"k":1104,"e":-2.614},{"b":28,"k":1130,"e":-2.553},{"b":28,"k":1170,"e":-2.505},{"b":28,"k":1210,"e":-2.384},{"b":28,"k":1250,"e":-2.42},{"b":28,"k":1279,"e":-2.4},
{"b":29,"k":0,"e":-2.4},{"b":29,"k":20,"e":-2.415},{"b":29,"k":50,"e":-2.578},{"b":29,"k":104,"e":-2.594},{"b":29,"k":132,"e":-2.638},{"b":29,"k":144,"e":-2.585},{"b":29,"k":157,"e":-2.546},{"b":29,"k":180,"e":-2.53},{"b":29,"k":200,"e":-2.515},{"b":29,"k":232,"e":-2.488},{"b":29,"k":252,"e":-2.56},{"b":29,"k":270,"e":-2.517},{"b":29,"k":287,"e":-2.53},{"b":29,"k":304,"e":-2.512},{"b":29,"k":338,"e":-2.614},{"b":29,"k":364,"e":-2.614},{"b":29,"k":398,"e":-2.597},{"b":29,"k":417,"e":-2.657},{"b":29,"k":434,"e":-2.662},{"b":29,"k":467,"e":-2.723},{"b":29,"k":510,"e":-2.783},{"b":29,"k":537,"e":-2.759},{"b":29,"k":570,"e":-2.626},{"b":29,"k":594,"e":-2.59},{"b":29,"k":609,"e":-2.594},{"b":29,"k":614,"e":-2.65},{"b":29,"k":620,"e":-2.662},{"b":29,"k":634,"e":-2.59},{"b":29,"k":647,"e":-2.517},{"b":29,"k":657,"e":-2.47},{"b":29,"k":670,"e":-2.415},{"b":29,"k":685,"e":-2.403},{"b":29,"k":700,"e":-2.311},{"b":29,"k":714,"e":-2.19},{"b":29,"k":730,"e":-2.19},{"b":29,"k":765,"e":-2.275},{"b":29,"k":793,"e":-2.183},{"b":29,"k":814,"e":-2.263},{"b":29,"k":850,"e":-2.36},{"b":29,"k":917,"e":-2.44},{"b":29,"k":930,"e":-2.42},{"b":29,"k":947,"e":-2.384},{"b":29,"k":967,"e":-2.457},{"b":29,"k":980,"e":-2.44},{"b":29,"k":1004,"e":-2.452},{"b":29,"k":1030,"e":-2.39},{"b":29,"k":1050,"e":-2.39},{"b":29,"k":1067,"e":-2.33},{"b":29,"k":1084,"e":-2.37},{"b":29,"k":1110,"e":-2.427},{"b":29,"k":1130,"e":-2.408},{"b":29,"k":1167,"e":-2.27},{"b":29,"k":1195,"e":-2.178},{"b":29,"k":1210,"e":-2.183},{"b":29,"k":1234,"e":-2.178},{"b":29,"k":1279,"e":-2.147},
{"b":30,"k":0,"e":-2.657},{"b":30,"k":37,"e":-2.686},{"b":30,"k":70,"e":-2.783},{"b":30,"k":107,"e":-2.844},{"b":30,"k":120,"e":-2.783},{"b":30,"k":130,"e":-2.674},{"b":30,"k":157,"e":-2.69},{"b":30,"k":177,"e":-2.638},{"b":30,"k":200,"e":-2.517},{"b":30,"k":220,"e":-2.517},{"b":30,"k":244,"e":-2.59},{"b":30,"k":270,"e":-2.63},{"b":30,"k":287,"e":-2.614},{"b":30,"k":314,"e":-2.667},{"b":30,"k":338,"e":-2.614},{"b":30,"k":377,"e":-2.7},{"b":30,"k":420,"e":-2.65},{"b":30,"k":467,"e":-2.747},{"b":30,"k":510,"e":-2.778},{"b":30,"k":537,"e":-2.771},{"b":30,"k":560,"e":-2.686},{"b":30,"k":584,"e":-2.607},{"b":30,"k":609,"e":-2.594},{"b":30,"k":620,"e":-2.505},{"b":30,"k":634,"e":-2.486},{"b":30,"k":647,"e":-2.517},{"b":30,"k":660,"e":-2.59},{"b":30,"k":677,"e":-2.655},{"b":30,"k":720,"e":-2.609},{"b":30,"k":734,"e":-2.59},{"b":30,"k":747,"e":-2.517},{"b":30,"k":764,"e":-2.42},{"b":30,"k":793,"e":-2.457},{"b":30,"k":804,"e":-2.47},{"b":30,"k":842,"e":-2.59},{"b":30,"k":870,"e":-2.674},{"b":30,"k":917,"e":-2.723},{"b":30,"k":934,"e":-2.7},{"b":30,"k":967,"e":-2.53},{"b":30,"k":994,"e":-2.7},{"b":30,"k":1034,"e":-2.83},{"b":30,"k":1057,"e":-3},{"b":30,"k":1080,"e":-3.098},{"b":30,"k":1114,"e":-3.025},{"b":30,"k":1150,"e":-2.723},{"b":30,"k":1177,"e":-2.638},{"b":30,"k":1210,"e":-2.638},{"b":30,"k":1230,"e":-2.703},{"b":30,"k":1245,"e":-2.614},{"b":30,"k":1279,"e":-2.614},
{"b":31,"k":0,"e":-2.85},{"b":31,"k":27,"e":-2.83},{"b":31,"k":44,"e":-2.856},{"b":31,"k":75,"e":-2.996},{"b":31,"k":97,"e":-2.989},{"b":31,"k":115,"e":-2.904},{"b":31,"k":160,"e":-2.887},{"b":31,"k":184,"e":-2.856},{"b":31,"k":227,"e":-2.856},{"b":31,"k":245,"e":-2.82},{"b":31,"k":270,"e":-2.856},{"b":31,"k":287,"e":-2.868},{"b":31,"k":320,"e":-2.82},{"b":31,"k":338,"e":-2.788},{"b":31,"k":364,"e":-2.82},{"b":31,"k":398,"e":-2.856},{"b":31,"k":417,"e":-2.81},{"b":31,"k":450,"e":-2.977},{"b":31,"k":467,"e":-3.06},{"b":31,"k":480,"e":-3.074},{"b":31,"k":510,"e":-3.037},{"b":31,"k":537,"e":-2.924},{"b":31,"k":567,"e":-2.892},{"b":31,"k":594,"e":-2.795},{"b":31,"k":609,"e":-2.788},{"b":31,"k":617,"e":-2.747},{"b":31,"k":627,"e":-2.807},{"b":31,"k":644,"e":-2.9},{"b":31,"k":657,"e":-2.892},{"b":31,"k":670,"e":-2.856},{"b":31,"k":704,"e":-2.85},{"b":31,"k":730,"e":-2.71},{"b":31,"k":762,"e":-2.614},{"b":31,"k":814,"e":-2.62},{"b":31,"k":850,"e":-2.82},{"b":31,"k":880,"e":-2.916},{"b":31,"k":917,"e":-2.957},{"b":31,"k":950,"e":-2.88},{"b":31,"k":984,"e":-2.778},{"b":31,"k":1000,"e":-2.7},{"b":31,"k":1024,"e":-2.686},{"b":31,"k":1067,"e":-2.703},{"b":31,"k":1097,"e":-2.662},{"b":31,"k":1130,"e":-2.565},{"b":31,"k":1164,"e":-2.456},{"b":31,"k":1187,"e":-2.372},{"b":31,"k":1210,"e":-2.384},{"b":31,"k":1254,"e":-2.437},{"b":31,"k":1270,"e":-2.335},{"b":31,"k":1279,"e":-2.292},
{"b":32,"k":0,"e":-2.92},{"b":32,"k":37,"e":-2.95},{"b":32,"k":87,"e":-2.904},{"b":32,"k":117,"e":-2.856},{"b":32,"k":170,"e":-2.827},{"b":32,"k":187,"e":-2.754},{"b":32,"k":210,"e":-2.827},{"b":32,"k":237,"e":-2.78},{"b":32,"k":270,"e":-2.674},{"b":32,"k":292,"e":-2.754},{"b":32,"k":320,"e":-2.766},{"b":32,"k":338,"e":-2.788},{"b":32,"k":397,"e":-2.844},{"b":32,"k":410,"e":-2.783},{"b":32,"k":424,"e":-2.807},{"b":32,"k":454,"e":-3},{"b":32,"k":467,"e":-3.09},{"b":32,"k":510,"e":-3.13},{"b":32,"k":550,"e":-3.06},{"b":32,"k":577,"e":-2.88},{"b":32,"k":609,"e":-2.788},{"b":32,"k":627,"e":-2.868},{"b":32,"k":654,"e":-2.953},{"b":32,"k":670,"e":-2.924},{"b":32,"k":697,"e":-2.904},{"b":32,"k":720,"e":-2.82},{"b":32,"k":745,"e":-2.728},{"b":32,"k":793,"e":-2.764},{"b":32,"k":814,"e":-2.795},{"b":32,"k":842,"e":-2.92},{"b":32,"k":870,"e":-2.94},{"b":32,"k":917,"e":-3.054},{"b":32,"k":934,"e":-3.04},{"b":32,"k":957,"e":-2.953},{"b":32,"k":974,"e":-2.96},{"b":32,"k":994,"e":-3.025},{"b":32,"k":1035,"e":-3.1},{"b":32,"k":1060,"e":-3.13},{"b":32,"k":1084,"e":-3.23},{"b":32,"k":1097,"e":-3.255},{"b":32,"k":1124,"e":-3.18},{"b":32,"k":1157,"e":-2.977},{"b":32,"k":1197,"e":-2.795},{"b":32,"k":1210,"e":-2.795},{"b":32,"k":1230,"e":-2.783},{"b":32,"k":1250,"e":-2.856},{"b":32,"k":1279,"e":-2.945},
{"b":33,"k":0,"e":-3.07},{"b":33,"k":64,"e":-3.025},{"b":33,"k":94,"e":-3.158},{"b":33,"k":142,"e":-3.12},{"b":33,"k":167,"e":-2.94},{"b":33,"k":194,"e":-2.977},{"b":33,"k":210,"e":-2.957},{"b":33,"k":222,"e":-2.977},{"b":33,"k":250,"e":-2.875},{"b":33,"k":287,"e":-2.868},{"b":33,"k":307,"e":-3},{"b":33,"k":338,"e":-3.195},{"b":33,"k":357,"e":-3.195},{"b":33,"k":374,"e":-3.11},{"b":33,"k":400,"e":-3.105},{"b":33,"k":427,"e":-3.12},{"b":33,"k":467,"e":-3.12},{"b":33,"k":497,"e":-3.243},{"b":33,"k":537,"e":-3.219},{"b":33,"k":570,"e":-3.207},{"b":33,"k":609,"e":-3.212},{"b":33,"k":620,"e":-3.23},{"b":33,"k":630,"e":-3.18},{"b":33,"k":644,"e":-3.105},{"b":33,"k":678,"e":-3.11},{"b":33,"k":724,"e":-3.15},{"b":33,"k":737,"e":-3.134},{"b":33,"k":762,"e":-3},{"b":33,"k":793,"e":-2.945},{"b":33,"k":837,"e":-2.94},{"b":33,"k":854,"e":-3.05},{"b":33,"k":867,"e":-3.16},{"b":33,"k":887,"e":-3.352},{"b":33,"k":917,"e":-3.262},{"b":33,"k":934,"e":-3.158},{"b":33,"k":967,"e":-3.093},{"b":33,"k":980,"e":-3.098},{"b":33,"k":1000,"e":-3.23},{"b":33,"k":1017,"e":-3.352},{"b":33,"k":1035,"e":-3.333},{"b":33,"k":1067,"e":-3.352},{"b":33,"k":1094,"e":-3.352},{"b":33,"k":1124,"e":-3.303},{"b":33,"k":1210,"e":-3.22},{"b":33,"k":1227,"e":-3.146},{"b":33,"k":1250,"e":-3.22},{"b":33,"k":1279,"e":-3.29},
{"b":34,"k":0,"e":-3.115},{"b":34,"k":17,"e":-3.14},{"b":34,"k":67,"e":-3.316},{"b":34,"k":94,"e":-3.33},{"b":34,"k":120,"e":-3.28},{"b":34,"k":134,"e":-3.195},{"b":34,"k":167,"e":-3.163},{"b":34,"k":200,"e":-3.06},{"b":34,"k":220,"e":-3.045},{"b":34,"k":270,"e":-3.08},{"b":34,"k":334,"e":-3.2},{"b":34,"k":338,"e":-3.207},{"b":34,"k":364,"e":-3.134},{"b":34,"k":398,"e":-3.146},{"b":34,"k":420,"e":-3.12},{"b":34,"k":467,"e":-3.243},{"b":34,"k":497,"e":-3.34},{"b":34,"k":534,"e":-3.267},{"b":34,"k":570,"e":-3.214},{"b":34,"k":609,"e":-3.212},{"b":34,"k":654,"e":-3.045},{"b":34,"k":677,"e":-3.07},{"b":34,"k":694,"e":-3.013},{"b":34,"k":707,"e":-2.856},{"b":34,"k":724,"e":-2.662},{"b":34,"k":739,"e":-2.53},{"b":34,"k":762,"e":-2.396},{"b":34,"k":793,"e":-2.403},{"b":34,"k":814,"e":-2.415},{"b":34,"k":850,"e":-2.59},{"b":34,"k":880,"e":-2.807},{"b":34,"k":904,"e":-2.892},{"b":34,"k":917,"e":-2.892},{"b":34,"k":937,"e":-2.868},{"b":34,"k":964,"e":-2.868},{"b":34,"k":997,"e":-2.887},{"b":34,"k":1034,"e":-2.856},{"b":34,"k":1060,"e":-3.025},{"b":34,"k":1084,"e":-3.074},{"b":34,"k":1117,"e":-2.977},{"b":34,"k":1154,"e":-2.7},{"b":34,"k":1180,"e":-2.62},{"b":34,"k":1210,"e":-2.638},{"b":34,"k":1234,"e":-2.565},{"b":34,"k":1245,"e":-2.54},{"b":34,"k":1254,"e":-2.47},{"b":34,"k":1279,"e":-2.464},
{"b":35,"k":0,"e":-3.37},{"b":35,"k":40,"e":-3.526},{"b":35,"k":87,"e":-3.376},{"b":35,"k":117,"e":-3.413},{"b":35,"k":160,"e":-3.255},{"b":35,"k":197,"e":-3.086},{"b":35,"k":225,"e":-3.098},{"b":35,"k":247,"e":-3.2},{"b":35,"k":270,"e":-3.163},{"b":35,"k":287,"e":-3.17},{"b":35,"k":317,"e":-3.376},{"b":35,"k":338,"e":-3.408},{"b":35,"k":352,"e":-3.437},{"b":35,"k":398,"e":-3.328},{"b":35,"k":420,"e":-3.315},{"b":35,"k":450,"e":-3.388},{"b":35,"k":467,"e":-3.46},{"b":35,"k":497,"e":-3.62},{"b":35,"k":524,"e":-3.64},{"b":35,"k":550,"e":-3.57},{"b":35,"k":580,"e":-3.41},{"b":35,"k":609,"e":-3.357},{"b":35,"k":637,"e":-3.41},{"b":35,"k":670,"e":-3.53},{"b":35,"k":704,"e":-3.52},{"b":35,"k":730,"e":-3.425},{"b":35,"k":757,"e":-3.34},{"b":35,"k":793,"e":-3.29},{"b":35,"k":820,"e":-3.34},{"b":35,"k":852,"e":-3.468},{"b":35,"k":897,"e":-3.417},{"b":35,"k":917,"e":-3.34},{"b":35,"k":940,"e":-3.28},{"b":35,"k":967,"e":-3.15},{"b":35,"k":997,"e":-3.243},{"b":35,"k":1035,"e":-3.333},{"b":35,"k":1067,"e":-3.376},{"b":35,"k":1097,"e":-3.393},{"b":35,"k":1130,"e":-3.29},{"b":35,"k":1210,"e":-3.22},{"b":35,"k":1224,"e":-3.3},{"b":35,"k":1250,"e":-3.18},{"b":35,"k":1279,"e":-3.07},
{"b":36,"k":0,"e":-3.54},{"b":36,"k":30,"e":-3.58},{"b":36,"k":58,"e":-3.67},{"b":36,"k":87,"e":-3.558},{"b":36,"k":114,"e":-3.49},{"b":36,"k":137,"e":-3.51},{"b":36,"k":164,"e":-3.364},{"b":36,"k":184,"e":-3.195},{"b":36,"k":200,"e":-3.13},{"b":36,"k":210,"e":-3.15},{"b":36,"k":230,"e":-3.22},{"b":36,"k":254,"e":-3.29},{"b":36,"k":277,"e":-3.33},{"b":36,"k":314,"e":-3.437},{"b":36,"k":338,"e":-3.4},{"b":36,"k":352,"e":-3.357},{"b":36,"k":398,"e":-3.328},{"b":36,"k":425,"e":-3.33},{"b":36,"k":467,"e":-3.437},{"b":36,"k":487,"e":-3.497},{"b":36,"k":524,"e":-3.56},{"b":36,"k":550,"e":-3.51},{"b":36,"k":570,"e":-3.4},{"b":36,"k":592,"e":-3.347},{"b":36,"k":617,"e":-3.357},{"b":36,"k":670,"e":-3.371},{"b":36,"k":704,"e":-3.328},{"b":36,"k":744,"e":-3.28},{"b":36,"k":793,"e":-3.069},{"b":36,"k":820,"e":-3.098},{"b":36,"k":847,"e":-3.16},{"b":36,"k":887,"e":-3.16},{"b":36,"k":917,"e":-3.175},{"b":36,"k":930,"e":-3.17},{"b":36,"k":947,"e":-3.086},{"b":36,"k":967,"e":-3.074},{"b":36,"k":984,"e":-3.074},{"b":36,"k":1017,"e":-3.163},{"b":36,"k":1050,"e":-3.13},{"b":36,"k":1064,"e":-3.13},{"b":36,"k":1087,"e":-3.23},{"b":36,"k":1097,"e":-3.243},{"b":36,"k":1130,"e":-3.134},{"b":36,"k":1170,"e":-2.904},{"b":36,"k":1210,"e":-2.795},{"b":36,"k":1247,"e":-2.674},{"b":36,"k":1279,"e":-2.764},
{"b":37,"k":0,"e":-3.587},{"b":37,"k":27,"e":-3.606},{"b":37,"k":70,"e":-3.74},{"b":37,"k":100,"e":-3.843},{"b":37,"k":127,"e":-3.75},{"b":37,"k":164,"e":-3.485},{"b":37,"k":187,"e":-3.323},{"b":37,"k":210,"e":-3.316},{"b":37,"k":237,"e":-3.303},{"b":37,"k":277,"e":-3.352},{"b":37,"k":310,"e":-3.521},{"b":37,"k":338,"e":-3.545},{"b":37,"k":354,"e":-3.558},{"b":37,"k":370,"e":-3.606},{"b":37,"k":397,"e":-3.594},{"b":37,"k":420,"e":-3.666},{"b":37,"k":467,"e":-3.698},{"b":37,"k":504,"e":-3.74},{"b":37,"k":554,"e":-3.824},{"b":37,"k":580,"e":-3.775},{"b":37,"k":609,"e":-3.756},{"b":37,"k":627,"e":-3.86},{"b":37,"k":650,"e":-3.795},{"b":37,"k":677,"e":-3.795},{"b":37,"k":747,"e":-3.722},{"b":37,"k":770,"e":-3.751},{"b":37,"k":793,"e":-3.751},{"b":37,"k":834,"e":-3.788},{"b":37,"k":900,"e":-3.727},{"b":37,"k":917,"e":-3.63},{"b":37,"k":950,"e":-3.497},{"b":37,"k":984,"e":-3.497},{"b":37,"k":1017,"e":-3.618},{"b":37,"k":1035,"e":-3.587},{"b":37,"k":1077,"e":-3.558},{"b":37,"k":1100,"e":-3.473},{"b":37,"k":1134,"e":-3.46},{"b":37,"k":1164,"e":-3.388},{"b":37,"k":1210,"e":-3.376},{"b":37,"k":1220,"e":-3.352},{"b":37,"k":1237,"e":-3.497},{"b":37,"k":1264,"e":-3.703},{"b":37,"k":1279,"e":-3.756},
{"b":38,"k":0,"e":-3.8},{"b":38,"k":20,"e":-3.836},{"b":38,"k":77,"e":-4.03},{"b":38,"k":109,"e":-3.908},{"b":38,"k":142,"e":-3.884},{"b":38,"k":157,"e":-3.763},{"b":38,"k":177,"e":-3.763},{"b":38,"k":207,"e":-3.606},{"b":38,"k":244,"e":-3.558},{"b":38,"k":304,"e":-3.618},{"b":38,"k":337,"e":-3.812},{"b":38,"k":364,"e":-3.795},{"b":38,"k":397,"e":-3.807},{"b":38,"k":420,"e":-3.788},{"b":38,"k":467,"e":-3.8},{"b":38,"k":480,"e":-3.848},{"b":38,"k":504,"e":-4.04},{"b":38,"k":520,"e":-4.083},{"b":38,"k":554,"e":-3.93},{"b":38,"k":577,"e":-3.86},{"b":38,"k":609,"e":-3.916},{"b":38,"k":644,"e":-3.962},{"b":38,"k":678,"e":-3.969},{"b":38,"k":793,"e":-4.066},{"b":38,"k":837,"e":-4.066},{"b":38,"k":870,"e":-4.03},{"b":38,"k":890,"e":-4.085},{"b":38,"k":917,"e":-3.872},{"b":38,"k":934,"e":-3.812},{"b":38,"k":997,"e":-3.78},{"b":38,"k":1017,"e":-3.86},{"b":38,"k":1034,"e":-3.86},{"b":38,"k":1060,"e":-3.916},{"b":38,"k":1087,"e":-3.836},{"b":38,"k":1117,"e":-3.92},{"b":38,"k":1164,"e":-4.07},{"b":38,"k":1210,"e":-3.981},{"b":38,"k":1279,"e":-4.066},
{"b":39,"k":0,"e":-3.84},{"b":39,"k":37,"e":-3.86},{"b":39,"k":77,"e":-3.896},{"b":39,"k":110,"e":-3.86},{"b":39,"k":137,"e":-3.75},{"b":39,"k":157,"e":-3.75},{"b":39,"k":167,"e":-3.606},{"b":39,"k":187,"e":-3.509},{"b":39,"k":237,"e":-3.48},{"b":39,"k":287,"e":-3.521},{"b":39,"k":310,"e":-3.606},{"b":39,"k":338,"e":-3.553},{"b":39,"k":397,"e":-3.504},{"b":39,"k":420,"e":-3.516},{"b":39,"k":467,"e":-3.538},{"b":39,"k":537,"e":-3.703},{"b":39,"k":567,"e":-3.763},{"b":39,"k":609,"e":-3.756},{"b":39,"k":619,"e":-3.703},{"b":39,"k":644,"e":-3.69},{"b":39,"k":677,"e":-3.582},{"b":39,"k":704,"e":-3.558},{"b":39,"k":744,"e":-3.642},{"b":39,"k":793,"e":-3.582},{"b":39,"k":840,"e":-3.538},{"b":39,"k":874,"e":-3.618},{"b":39,"k":917,"e":-3.4},{"b":39,"k":940,"e":-3.328},{"b":39,"k":974,"e":-3.323},{"b":39,"k":1004,"e":-3.4},{"b":39,"k":1017,"e":-3.412},{"b":39,"k":1035,"e":-3.497},{"b":39,"k":1064,"e":-3.48},{"b":39,"k":1090,"e":-3.521},{"b":39,"k":1110,"e":-3.558},{"b":39,"k":1134,"e":-3.533},{"b":39,"k":1167,"e":-3.4},{"b":39,"k":1210,"e":-3.376},{"b":39,"k":1237,"e":-3.509},{"b":39,"k":1279,"e":-3.582},
{"b":40,"k":0,"e":-3.97},{"b":40,"k":27,"e":-4.017},{"b":40,"k":49,"e":-4.119},{"b":40,"k":74,"e":-4.078},{"b":40,"k":84,"e":-4.09},{"b":40,"k":107,"e":-4.017},{"b":40,"k":157,"e":-3.957},{"b":40,"k":184,"e":-3.819},{"b":40,"k":210,"e":-3.804},{"b":40,"k":245,"e":-3.952},{"b":40,"k":272,"e":-3.952},{"b":40,"k":309,"e":-3.75},{"b":40,"k":327,"e":-3.843},{"b":40,"k":338,"e":-3.807},{"b":40,"k":364,"e":-3.795},{"b":40,"k":397,"e":-3.855},{"b":40,"k":420,"e":-3.836},{"b":40,"k":467,"e":-3.867},{"b":40,"k":484,"e":-3.896},{"b":40,"k":504,"e":-4.04},{"b":40,"k":537,"e":-4.15},{"b":40,"k":554,"e":-3.993},{"b":40,"k":570,"e":-3.94},{"b":40,"k":609,"e":-3.916},{"b":40,"k":624,"e":-3.884},{"b":40,"k":640,"e":-3.908},{"b":40,"k":677,"e":-3.836},{"b":40,"k":747,"e":-3.751},{"b":40,"k":770,"e":-3.8},{"b":40,"k":793,"e":-3.824},{"b":40,"k":870,"e":-3.884},{"b":40,"k":900,"e":-3.8},{"b":40,"k":917,"e":-3.74},{"b":40,"k":940,"e":-3.582},{"b":40,"k":960,"e":-3.582},{"b":40,"k":984,"e":-3.642},{"b":40,"k":1004,"e":-3.72},{"b":40,"k":1020,"e":-3.727},{"b":40,"k":1034,"e":-3.807},{"b":40,"k":1084,"e":-3.836},{"b":40,"k":1117,"e":-3.933},{"b":40,"k":1167,"e":-3.928},{"b":40,"k":1210,"e":-3.981},{"b":40,"k":1234,"e":-3.933},{"b":40,"k":1279,"e":-3.812},
{"b":41,"k":0,"e":-4.223},{"b":41,"k":30,"e":-4.19},{"b":41,"k":58,"e":-4.19},{"b":41,"k":82,"e":-4.126},{"b":41,"k":107,"e":-4.18},{"b":41,"k":137,"e":-4.13},{"b":41,"k":160,"e":-4.158},{"b":41,"k":187,"e":-4.284},{"b":41,"k":207,"e":-4.368},{"b":41,"k":220,"e":-4.344},{"b":41,"k":244,"e":-4.235},{"b":41,"k":268,"e":-3.998},{"b":41,"k":294,"e":-4.06},{"b":41,"k":325,"e":-3.96},{"b":41,"k":338,"e":-4.054},{"b":41,"k":364,"e":-4.095},{"b":41,"k":397,"e":-4.143},{"b":41,"k":410,"e":-4.15},{"b":41,"k":437,"e":-4.066},{"b":41,"k":467,"e":-4.054},{"b":41,"k":487,"e":-4.09},{"b":41,"k":525,"e":-4.247},{"b":41,"k":542,"e":-4.32},{"b":41,"k":570,"e":-4.27},{"b":41,"k":609,"e":-4.167},{"b":41,"k":647,"e":-4.26},{"b":41,"k":678,"e":-4.223},{"b":41,"k":730,"e":-4.235},{"b":41,"k":793,"e":-4.218},{"b":41,"k":820,"e":-4.26},{"b":41,"k":834,"e":-4.284},{"b":41,"k":870,"e":-4.235},{"b":41,"k":900,"e":-4.393},{"b":41,"k":917,"e":-4.4},{"b":41,"k":954,"e":-4.49},{"b":41,"k":974,"e":-4.453},{"b":41,"k":1007,"e":-4.562},{"b":41,"k":1034,"e":-4.55},{"b":41,"k":1060,"e":-4.453},{"b":41,"k":1087,"e":-4.308},{"b":41,"k":1110,"e":-4.356},{"b":41,"k":1154,"e":-4.557},{"b":41,"k":1210,"e":-4.368},{"b":41,"k":1234,"e":-4.344},{"b":41,"k":1279,"e":-4.368},
{"b":42,"k":0,"e":-4.35},{"b":42,"k":37,"e":-4.344},{"b":42,"k":67,"e":-4.5},{"b":42,"k":87,"e":-4.67},{"b":42,"k":97,"e":-4.714},{"b":42,"k":117,"e":-4.647},{"b":42,"k":134,"e":-4.513},{"b":42,"k":154,"e":-4.43},{"b":42,"k":170,"e":-4.34},{"b":42,"k":200,"e":-4.4},{"b":42,"k":224,"e":-4.405},{"b":42,"k":270,"e":-4.361},{"b":42,"k":312,"e":-4.35},{"b":42,"k":338,"e":-4.054},{"b":42,"k":364,"e":-4.138},{"b":42,"k":398,"e":-4.187},{"b":42,"k":410,"e":-4.199},{"b":42,"k":437,"e":-4.126},{"b":42,"k":467,"e":-4.1},{"b":42,"k":504,"e":-4.218},{"b":42,"k":525,"e":-4.247},{"b":42,"k":540,"e":-4.175},{"b":42,"k":594,"e":-4.163},{"b":42,"k":609,"e":-4.167},{"b":42,"k":678,"e":-4.134},{"b":42,"k":750,"e":-4.192},{"b":42,"k":793,"e":-4.175},{"b":42,"k":837,"e":-4.114},{"b":42,"k":870,"e":-4.03},{"b":42,"k":899,"e":-3.872},{"b":42,"k":917,"e":-4.017},{"b":42,"k":944,"e":-4.332},{"b":42,"k":964,"e":-4.368},{"b":42,"k":977,"e":-4.332},{"b":42,"k":1017,"e":-4.114},{"b":42,"k":1035,"e":-4.138},{"b":42,"k":1067,"e":-3.993},{"b":42,"k":1090,"e":-4.085},{"b":42,"k":1124,"e":-4.09},{"b":42,"k":1150,"e":-4.163},{"b":42,"k":1190,"e":-4.26},{"b":42,"k":1210,"e":-4.223},{"b":42,"k":1279,"e":-4.175},
{"b":43,"k":0,"e":-4.138},{"b":43,"k":30,"e":-4.187},{"b":43,"k":50,"e":-4.284},{"b":43,"k":67,"e":-4.38},{"b":43,"k":87,"e":-4.405},{"b":43,"k":105,"e":-4.55},{"b":43,"k":119,"e":-4.743},{"b":43,"k":134,"e":-4.95},{"b":43,"k":140,"e":-4.937},{"b":43,"k":164,"e":-4.72},{"b":43,"k":184,"e":-4.634},{"b":43,"k":210,"e":-4.72},{"b":43,"k":267,"e":-4.69},{"b":43,"k":284,"e":-4.763},{"b":43,"k":312,"e":-4.562},{"b":43,"k":338,"e":-4.472},{"b":43,"k":398,"e":-4.55},{"b":43,"k":437,"e":-4.659},{"b":43,"k":467,"e":-4.59},{"b":43,"k":484,"e":-4.55},{"b":43,"k":524,"e":-4.55},{"b":43,"k":545,"e":-4.49},{"b":43,"k":577,"e":-4.557},{"b":43,"k":609,"e":-4.465},{"b":43,"k":637,"e":-4.477},{"b":43,"k":677,"e":-4.38},{"b":43,"k":707,"e":-4.388},{"b":43,"k":750,"e":-4.349},{"b":43,"k":793,"e":-4.368},{"b":43,"k":824,"e":-4.26},{"b":43,"k":850,"e":-4.167},{"b":43,"k":880,"e":-4.167},{"b":43,"k":889,"e":-4.119},{"b":43,"k":917,"e":-4.35},{"b":43,"k":954,"e":-4.405},{"b":43,"k":980,"e":-4.429},{"b":43,"k":1000,"e":-4.356},{"b":43,"k":1017,"e":-4.211},{"b":43,"k":1034,"e":-4.187},{"b":43,"k":1064,"e":-4.017},{"b":43,"k":1077,"e":-3.981},{"b":43,"k":1104,"e":-4.017},{"b":43,"k":1130,"e":-4.114},{"b":43,"k":1157,"e":-4.175},{"b":43,"k":1210,"e":-4.223},{"b":43,"k":1279,"e":-4.223},
{"b":44,"k":0,"e":-4.642},{"b":44,"k":20,"e":-4.659},{"b":44,"k":50,"e":-4.67},{"b":44,"k":74,"e":-4.767},{"b":44,"k":95,"e":-4.72},{"b":44,"k":105,"e":-4.83},{"b":44,"k":127,"e":-4.647},{"b":44,"k":150,"e":-4.429},{"b":44,"k":174,"e":-4.417},{"b":44,"k":200,"e":-4.4},{"b":44,"k":209,"e":-4.453},{"b":44,"k":234,"e":-4.465},{"b":44,"k":267,"e":-4.659},{"b":44,"k":294,"e":-4.513},{"b":44,"k":317,"e":-4.417},{"b":44,"k":338,"e":-4.472},{"b":44,"k":398,"e":-4.53},{"b":44,"k":437,"e":-4.61},{"b":44,"k":467,"e":-4.54},{"b":44,"k":517,"e":-4.429},{"b":44,"k":534,"e":-4.388},{"b":44,"k":564,"e":-4.44},{"b":44,"k":609,"e":-4.477},{"b":44,"k":627,"e":-4.405},{"b":44,"k":650,"e":-4.296},{"b":44,"k":684,"e":-4.368},{"b":44,"k":707,"e":-4.49},{"b":44,"k":747,"e":-4.44},{"b":44,"k":793,"e":-4.393},{"b":44,"k":814,"e":-4.5},{"b":44,"k":850,"e":-4.79},{"b":44,"k":870,"e":-4.913},{"b":44,"k":895,"e":-4.93},{"b":44,"k":917,"e":-4.9},{"b":44,"k":950,"e":-4.756},{"b":44,"k":997,"e":-4.683},{"b":44,"k":1034,"e":-4.526},{"b":44,"k":1084,"e":-4.32},{"b":44,"k":1117,"e":-4.216},{"b":44,"k":1150,"e":-4.211},{"b":44,"k":1210,"e":-4.368},{"b":44,"k":1250,"e":-4.4},{"b":44,"k":1279,"e":-4.4},
{"b":45,"k":0,"e":-4.38},{"b":45,"k":40,"e":-4.38},{"b":45,"k":59,"e":-4.477},{"b":45,"k":70,"e":-4.67},{"b":45,"k":87,"e":-5.02},
{"b":46,"k":0,"e":-4.562},{"b":46,"k":47,"e":-4.579},{"b":46,"k":67,"e":-4.695},{"b":46,"k":84,"e":-4.864},{"b":46,"k":104,"e":-4.9},{"b":46,"k":114,"e":-5.02},
{"b":47,"k":0,"e":-4.712},{"b":47,"k":17,"e":-4.707},{"b":47,"k":37,"e":-4.804},{"b":47,"k":57,"e":-5.02},
{"b":48,"k":0,"e":-4.94},{"b":48,"k":17,"e":-5.02},
{"b":49,"k":198,"e":-5.02},{"b":49,"k":210,"e":-4.89},{"b":49,"k":237,"e":-5.02},
{"b":50,"k":255,"e":-5.02},{"b":50,"k":264,"e":-4.893},{"b":50,"k":280,"e":-4.888},{"b":50,"k":299,"e":-5.02},
{"b":51,"k":540,"e":-5.02},{"b":51,"k":554,"e":-4.864},{"b":51,"k":570,"e":-4.67},{"b":51,"k":587,"e":-4.598},{"b":51,"k":609,"e":-4.598},{"b":51,"k":654,"e":-4.634},{"b":51,"k":720,"e":-4.647},{"b":51,"k":747,"e":-4.622},{"b":51,"k":793,"e":-4.659},{"b":51,"k":820,"e":-4.743},{"b":51,"k":840,"e":-4.828},{"b":51,"k":864,"e":-4.9},{"b":51,"k":877,"e":-5.02},
{"b":52,"k":515,"e":-5.02},{"b":52,"k":524,"e":-4.913},{"b":52,"k":537,"e":-4.87},{"b":52,"k":550,"e":-4.9},{"b":52,"k":590,"e":-5.02},
{"b":53,"k":517,"e":-5.02},{"b":53,"k":527,"e":-4.925},{"b":53,"k":550,"e":-4.95},{"b":53,"k":590,"e":-5.02},
{"b":54,"k":542,"e":-5.02},{"b":54,"k":570,"e":-4.695},{"b":54,"k":584,"e":-4.61},{"b":54,"k":609,"e":-4.598},{"b":54,"k":637,"e":-4.567},{"b":54,"k":678,"e":-4.562},{"b":54,"k":707,"e":-4.593},{"b":54,"k":747,"e":-4.55},{"b":54,"k":793,"e":-4.49},{"b":54,"k":847,"e":-4.509},{"b":54,"k":900,"e":-4.446},{"b":54,"k":917,"e":-4.574},{"b":54,"k":934,"e":-4.816},{"b":54,"k":944,"e":-4.913},{"b":54,"k":959,"e":-4.86},{"b":54,"k":970,"e":-4.889},{"b":54,"k":995,"e":-4.804},{"b":54,"k":1007,"e":-4.84},{"b":54,"k":1025,"e":-5.02},
{"b":55,"k":609,"e":-5.02},{"b":55,"k":634,"e":-4.767},{"b":55,"k":650,"e":-4.724},{"b":55,"k":704,"e":-4.707},{"b":55,"k":720,"e":-4.748},{"b":55,"k":760,"e":-4.79},{"b":55,"k":793,"e":-4.78},{"b":55,"k":820,"e":-4.864},{"b":55,"k":847,"e":-5.02},
{"b":56,"k":647,"e":-5.02},{"b":56,"k":657,"e":-4.956},{"b":56,"k":685,"e":-4.925},{"b":56,"k":709,"e":-4.84},{"b":56,"k":720,"e":-4.9},{"b":56,"k":730,"e":-5.02},
{"b":57,"k":1114,"e":-5.02},{"b":57,"k":1154,"e":-4.695},{"b":57,"k":1210,"e":-4.634},{"b":57,"k":1237,"e":-4.707},{"b":57,"k":1257,"e":-4.767},{"b":57,"k":1279,"e":-4.78},
{"b":58,"k":1134,"e":-5.02},{"b":58,"k":1174,"e":-4.743},{"b":58,"k":1210,"e":-4.634},{"b":58,"k":1250,"e":-4.526},{"b":58,"k":1279,"e":-4.49},
{"b":59,"k":1160,"e":-5.02},{"b":59,"k":1180,"e":-4.828},{"b":59,"k":1210,"e":-4.79},{"b":59,"k":1234,"e":-4.913},{"b":59,"k":1260,"e":-5.02},
{"b":60,"k":1170,"e":-5.02},{"b":60,"k":1194,"e":-4.84},{"b":60,"k":1210,"e":-4.79},{"b":60,"k":1237,"e":-4.707},{"b":60,"k":1250,"e":-4.67},{"b":60,"k":1279,"e":-4.659},
{"b":61,"k":1279,"e":1.586},{"b":61,"k":1287,"e":1.647},{"b":61,"k":1307,"e":1.973},{"b":61,"k":1317,"e":1.985},{"b":61,"k":1347,"e":1.864},{"b":61,"k":1377,"e":1.683},{"b":61,"k":1393,"e":1.635},
{"b":62,"k":1279,"e":1.175},{"b":62,"k":1289,"e":1.09},{"b":62,"k":1307,"e":0.751},{"b":62,"k":1327,"e":0.485},{"b":62,"k":1347,"e":0.545},{"b":62,"k":1377,"e":0.69},{"b":62,"k":1393,"e":0.722},
{"b":63,"k":1279,"e":0.226},{"b":63,"k":1300,"e":0.267},{"b":63,"k":1320,"e":0.359},{"b":63,"k":1327,"e":0.352},{"b":63,"k":1354,"e":0},{"b":63,"k":1374,"e":-0.193},{"b":63,"k":1393,"e":-0.253},
{"b":64,"k":1279,"e":-0.592},{"b":64,"k":1294,"e":-0.616},{"b":64,"k":1317,"e":-0.761},{"b":64,"k":1350,"e":-1},{"b":64,"k":1377,"e":-1.088},{"b":64,"k":1393,"e":-1.1},
{"b":65,"k":1279,"e":-1.63},{"b":65,"k":1300,"e":-1.63},{"b":65,"k":1350,"e":-1.58},{"b":65,"k":1393,"e":-1.53},
{"b":66,"k":1279,"e":-1.9},{"b":66,"k":1330,"e":-1.94},{"b":66,"k":1360,"e":-1.86},{"b":66,"k":1393,"e":-1.815},
{"b":67,"k":1279,"e":-2.23},{"b":67,"k":1294,"e":-2.2},{"b":67,"k":1317,"e":-2.12},{"b":67,"k":1337,"e":-2.02},{"b":67,"k":1364,"e":-2.04},{"b":67,"k":1393,"e":-2.05},
{"b":68,"k":1279,"e":-2.32},{"b":68,"k":1310,"e":-2.34},{"b":68,"k":1337,"e":-2.31},{"b":68,"k":1377,"e":-2.19},{"b":68,"k":1393,"e":-2.18},
{"b":69,"k":1279,"e":-2.6},{"b":69,"k":1294,"e":-2.6},{"b":69,"k":1334,"e":-2.52},{"b":69,"k":1364,"e":-2.4},{"b":69,"k":1393,"e":-2.39},
{"b":70,"k":1279,"e":-2.79},{"b":70,"k":1317,"e":-2.75},{"b":70,"k":1350,"e":-2.67},{"b":70,"k":1377,"e":-2.64},{"b":70,"k":1393,"e":-2.64},
{"b":71,"k":1279,"e":-3.21},{"b":71,"k":1300,"e":-3.17},{"b":71,"k":1317,"e":-3.07},{"b":71,"k":1347,"e":-2.88},{"b":71,"k":1393,"e":-2.8},
{"b":72,"k":1279,"e":-3.36},{"b":72,"k":1294,"e":-3.35},{"b":72,"k":1334,"e":-3.28},{"b":72,"k":1367,"e":-3.22},{"b":72,"k":1393,"e":-3.22},
{"b":73,"k":1279,"e":-3.76},{"b":73,"k":1310,"e":-3.7},{"b":73,"k":1350,"e":-3.51},{"b":73,"k":1377,"e":-3.4},{"b":73,"k":1393,"e":-3.38},
{"b":74,"k":1279,"e":-3.92},{"b":74,"k":1300,"e":-3.93},{"b":74,"k":1350,"e":-3.98},{"b":74,"k":1393,"e":-3.98},
{"b":75,"k":1279,"e":-4.18},{"b":75,"k":1290,"e":-4.18},{"b":75,"k":1324,"e":-4.26},{"b":75,"k":1357,"e":-4.24},{"b":75,"k":1393,"e":-4.22},
{"b":76,"k":1279,"e":-4.47},{"b":76,"k":1340,"e":-4.44},{"b":76,"k":1367,"e":-4.39},{"b":76,"k":1393,"e":-4.37},
{"b":77,"k":1279,"e":-4.6},{"b":77,"k":1350,"e":-4.65},{"b":77,"k":1393,"e":-4.63},
{"b":78,"k":1314,"e":-5.02},{"b":78,"k":1334,"e":-4.91},{"b":78,"k":1354,"e":-4.83},{"b":78,"k":1393,"e":-4.79}
]},
"layer":[
{"data":{"name":"bands"},"mark":{"type":"line","color":"black","strokeWidth":1.7,"interpolate":"monotone","clip":true},"encoding":{"x":{"field":"k","type":"quantitative","title":null,"scale":{"domain":[0,1393],"nice":false,"zero":false},"axis":{"orient":"bottom","values":[210,270,338,399,609,678,793,966,1035,1210,1279],"labels":false,"tickSize":-10,"grid":true,"gridDash":[2,3],"gridColor":"#888888","gridWidth":1,"title":null}},"y":{"field":"e","type":"quantitative","title":null,"scale":{"domain":[-5,2],"nice":false,"zero":false},"axis":{"orient":"left","values":[-5,-4,-3,-2,-1,0,1,2],"labelExpr":"'' + datum.value","labelFontSize":19,"labelPadding":26,"tickSize":-10,"grid":false,"title":null}},"detail":{"field":"b","type":"nominal"}}},
{"data":{"values":[{"k":1279,"e":1.65,"e2":1.586},{"k":1279,"e":1.175,"e2":0.896},{"k":1279,"e":0.558,"e2":-1.63},{"k":1279,"e":-1.665,"e2":-1.9},{"k":1279,"e":-1.99,"e2":-3.36},{"k":1279,"e":-3.582,"e2":-3.76},{"k":1279,"e":-3.812,"e2":-4.066},{"k":1279,"e":-4.175,"e2":-4.223},{"k":1279,"e":-4.368,"e2":-4.659},{"k":1279,"e":-4.78,"e2":-5}]},"mark":{"type":"rule","color":"black","strokeWidth":1.7},"encoding":{"x":{"field":"k","type":"quantitative","axis":null},"y":{"field":"e","type":"quantitative","axis":null},"y2":{"field":"e2"}}},
{"data":{"values":[{"level":0}]},"mark":{"type":"rule","color":"#56b4e9","strokeWidth":2},"encoding":{"y":{"field":"level","type":"quantitative","axis":null}}},
{"data":{"values":[{"k":0,"e":-5},{"k":1393,"e":2}]},"mark":{"type":"point","opacity":0},"encoding":{"x":{"field":"k","type":"quantitative","axis":{"orient":"top","values":[210,270,338,399,609,678,793,966,1035,1210,1279],"labels":false,"tickSize":-10,"grid":false,"title":null}},"y":{"field":"e","type":"quantitative","axis":{"orient":"right","values":[-5,-4,-3,-2,-1,0,1,2],"labels":false,"tickSize":-10,"grid":false,"title":null}}}},
{"data":{"values":[{"t":"X","k":205},{"t":"S","k":268},{"t":"R","k":337},{"t":"A","k":395},{"t":"Z","k":606},{"t":"Y","k":790},{"t":"X","k":959},{"t":"A","k":1029},{"t":"T","k":1208},{"t":"Y","k":1264},{"t":"Z","k":1293},{"t":"T","k":1391}]},"mark":{"type":"text","font":"Liberation Sans","fontSize":24,"color":"#222","dy":28,"baseline":"middle"},"encoding":{"x":{"field":"k","type":"quantitative","axis":null},"y":{"datum":-5,"type":"quantitative","axis":null},"text":{"field":"t"}}},
{"data":{"values":[{"t":"Γ","k":-3},{"t":"Γ","k":676}]},"mark":{"type":"text","font":"Liberation Serif","fontSize":25,"color":"#222","dy":28,"baseline":"middle"},"encoding":{"x":{"field":"k","type":"quantitative","axis":null},"y":{"datum":-5,"type":"quantitative","axis":null},"text":{"field":"t"}}},
{"data":{"values":[{"t":"1","k":974},{"t":"1","k":1042}]},"mark":{"type":"text","font":"Liberation Sans","fontSize":21,"color":"#222","dy":34,"baseline":"middle"},"encoding":{"x":{"field":"k","type":"quantitative","axis":null},"y":{"datum":-5,"type":"quantitative","axis":null},"text":{"field":"t"}}}
]}
